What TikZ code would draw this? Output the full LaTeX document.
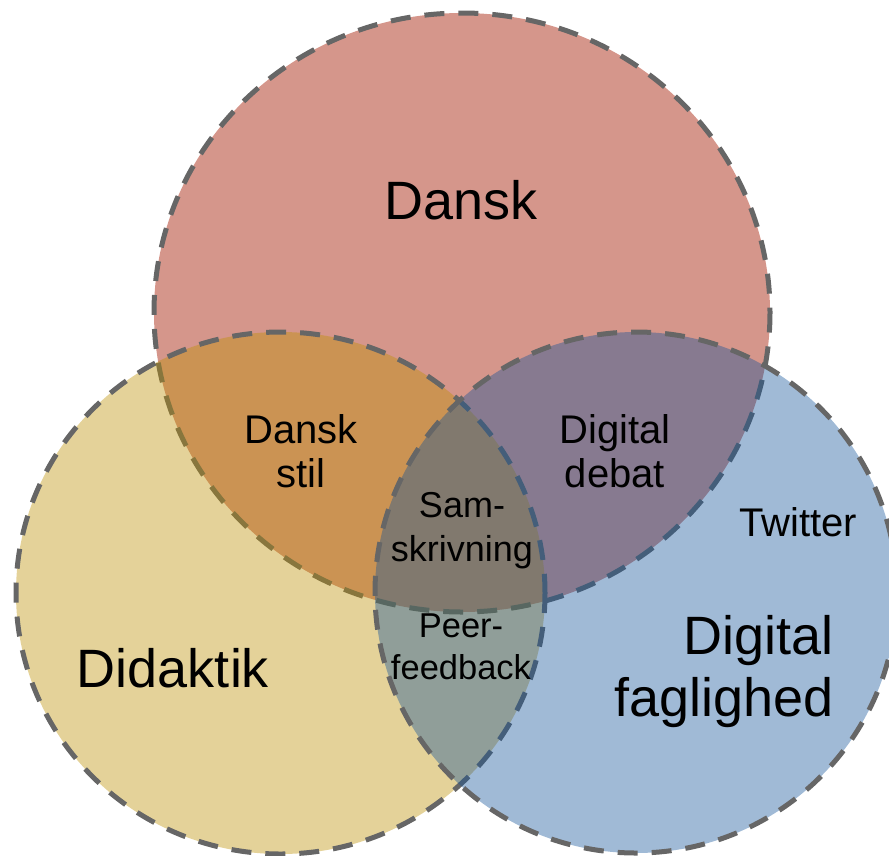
\documentclass[tikz,border=0pt]{standalone}
\usepackage{fontspec}
\setmainfont{Liberation Sans}
\definecolor{danskfill}{RGB}{213,150,139}
\definecolor{didfill}{RGB}{188,143,0}
\definecolor{digfill}{RGB}{18,82,152}
\definecolor{rimgray}{RGB}{102,102,102}
\begin{document}
\begin{tikzpicture}[x=1pt,y=-1pt,
  rim/.style={draw=rimgray, line width=5pt, dash pattern=on 20pt off 14pt},
  biglabel/.style={font=\fontsize{54}{62}\selectfont, inner sep=0pt, align=center},
  midlabel/.style={font=\fontsize{40}{44}\selectfont, inner sep=0pt, align=center},
  samlabel/.style={font=\fontsize{36}{44}\selectfont, inner sep=0pt, align=center},
  peerlabel/.style={font=\fontsize{34.5}{42.5}\selectfont, inner sep=0pt, align=center},
  twlabel/.style={font=\fontsize{40}{44}\selectfont, inner sep=0pt}]
\useasboundingbox (0,0) rectangle (889,855);
\clip (0,0) rectangle (889,855);
% circles
\path[rim, fill=danskfill] (462,312.5) ellipse [x radius=308, y radius=299.5];
\path[rim, fill=didfill, fill opacity=0.4] (280.5,593) ellipse [x radius=264.5, y radius=261];
\path[rim, fill=digfill, fill opacity=0.4] (636,592.5) ellipse [x radius=261, y radius=260.5];
% labels
\node[biglabel] (dansk) at (461,200) {Dansk};
\node[biglabel] (didaktik) at (173,668) {Didaktik};
\node[biglabel, align=right, anchor=east] (digital) at (834,672) {Digital\\faglighed};
\node[midlabel] (stil) at (301,451.5) {Dansk\\stil};
\node[midlabel] (debat) at (615,451.5) {Digital\\debat};
\node[samlabel] (samskriv) at (462,531) {Sam-\\skrivning};
\node[peerlabel] (peer) at (461,647) {Peer-\\feedback};
\node[twlabel] (twitter) at (798,522) {Twitter};
\end{tikzpicture}
\end{document}
